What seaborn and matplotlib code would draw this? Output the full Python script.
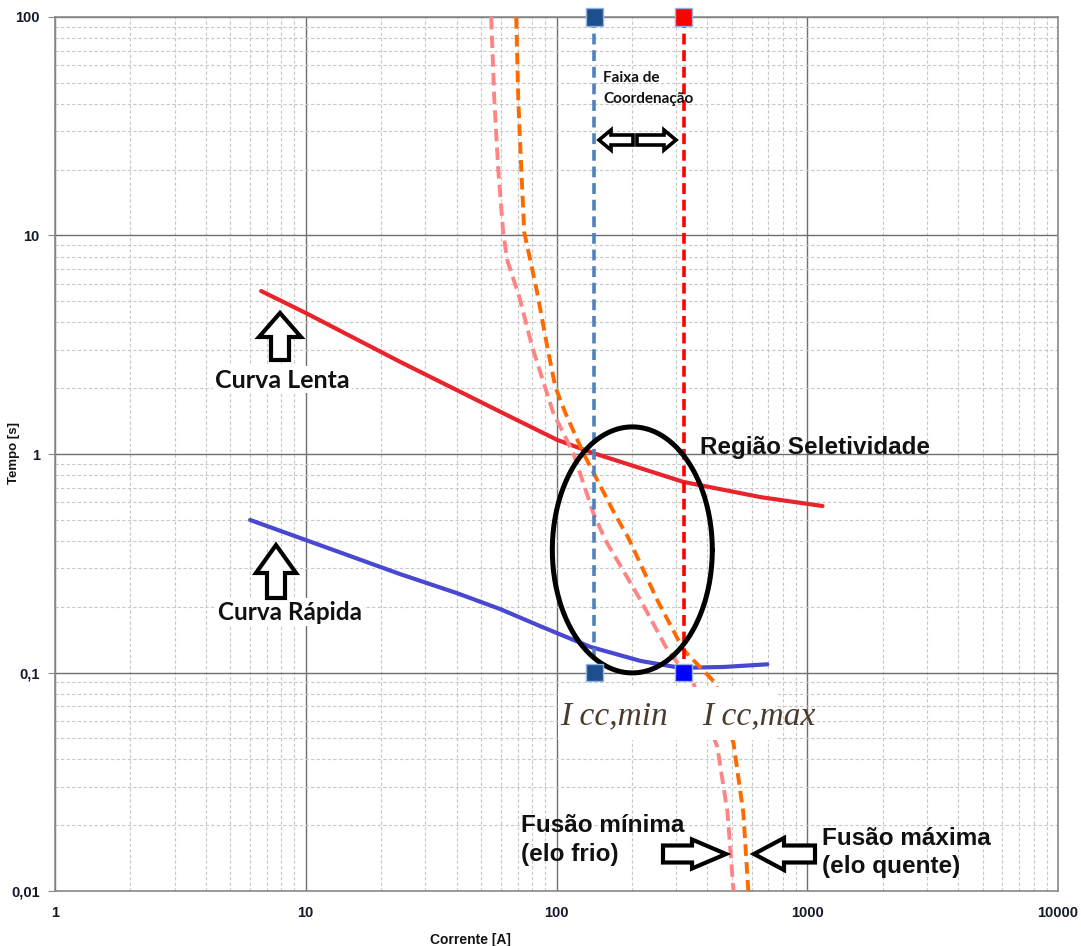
import numpy as np
import pandas as pd
import matplotlib
matplotlib.use("Agg")
import matplotlib.pyplot as plt
from matplotlib.patches import Polygon, Rectangle
import seaborn as sns

import warnings
warnings.filterwarnings('ignore')

# -------------------------
# STEP 1: Data
# -------------------------
# Curva Lenta (religador, curva lenta)
lenta_i = [6.64, 10, 23.8, 59.7, 100.7, 140, 321, 650, 1150]
lenta_t = [5.57, 4.42, 2.64, 1.56, 1.16, 1.01, 0.745, 0.635, 0.578]

# Curva Rapida
rapida_i = [6.0, 10, 23.8, 40.0, 59.7, 86.1, 136.4, 216, 312, 463, 693]
rapida_t = [0.499, 0.404, 0.282, 0.231, 0.195, 0.163, 0.131, 0.113, 0.105, 0.106, 0.109]

# Elo fusivel - fusao minima (elo frio)
fus_min_i = [54.9, 56.5, 58.6, 61.3, 63.6, 71.1, 80.0, 97.1, 116.7, 140.2,
             156.6, 216, 277, 351, 438, 481, 508]
fus_min_t = [100, 41.7, 19.9, 10.3, 7.72, 5.22, 3.09, 1.54, 1.01, 0.537,
             0.404, 0.215, 0.127, 0.0895, 0.0456, 0.0228, 0.01]

# Elo fusivel - fusao maxima (elo quente)
fus_max_i = [69.1, 70.4, 72.4, 74.4, 78.6, 83.8, 91.9, 98.9, 108.5, 127.9,
             170, 193.5, 252, 321, 430, 508, 556, 582]
fus_max_t = [100, 41.7, 19.9, 10.3, 7.72, 5.46, 3.09, 2.03, 1.54, 1.01,
             0.537, 0.413, 0.215, 0.127, 0.0895, 0.0475, 0.0228, 0.01]

# Correntes de curto-circuito (faixa de coordenacao)
icc_min = 141.7
icc_max = 321
icc_t = [100, 0.1]

# Regiao de seletividade (elipse em coordenadas log)
sel_center = (200.6, 0.364)
sel_span = (0.319, 0.563)   # semi-eixos em decadas

x_ticks = [1, 10, 100, 1000, 10000]
x_labels = ['1', '10', '100', '1000', '10000']
y_ticks = [0.01, 0.1, 1, 10, 100]
y_labels = ['0,01', '0,1', '1', '10', '100']

# -------------------------
# STEP 2: Figure & axes
# -------------------------
W, H = 1081, 946
sns.set_style("white")
plt.rcParams['font.family'] = ['Liberation Sans', 'DejaVu Sans']

fig = plt.figure(figsize=(W / 100, H / 100), dpi=100)
ax = fig.add_axes([55 / W, 1 - 891 / H, 1003 / W, 874 / H])
ax.set_xscale('log')
ax.set_yscale('log')
ax.set_xlim(1, 10000)
ax.set_ylim(0.01, 100)

ax.grid(which='minor', color='#c8c8c8', lw=0.8, ls=(0, (3, 2)), zorder=0)
ax.grid(which='major', color='#6e6e6e', lw=1.0, ls='-', zorder=0)
ax.set_axisbelow(True)
for s in ax.spines.values():
    s.set_color('#8a8a8a')
    s.set_linewidth(1.2)

# -------------------------
# STEP 3: Curves
# -------------------------
def curve(i, t, color, lw, dashes=None):
    df = pd.DataFrame({'I': i, 't': t})
    sns.lineplot(data=df, x='I', y='t', ax=ax, color=color, lw=lw,
                 sort=False, estimator=None, zorder=3)
    line = ax.lines[-1]
    line.set_solid_joinstyle('round')
    if dashes is not None:
        line.set_dashes(dashes)
        line.set_dash_capstyle('butt')

curve(lenta_i, lenta_t, '#e8242c', 3.0)
curve(rapida_i, rapida_t, '#4848d0', 3.0)
curve(fus_min_i, fus_min_t, '#ff8484', 2.8, (3.2, 1.6))
curve(fus_max_i, fus_max_t, '#ff6a00', 2.8, (3.0, 1.6))
curve([icc_min, icc_min], icc_t, '#4f81bd', 2.6, (3.0, 1.6))
curve([icc_max, icc_max], icc_t, '#ff0000', 2.6, (3.0, 1.6))

# marcadores quadrados nas extremidades
sq = pd.DataFrame({'I': [icc_min, icc_min, icc_max, icc_max],
                   't': [100, 0.1, 100, 0.1],
                   'c': ['a', 'a', 'b', 'c']})
sns.scatterplot(data=sq, x='I', y='t', hue='c', marker='s', s=150,
                palette={'a': '#1f4e8c', 'b': '#ff0000', 'c': '#0000ff'},
                edgecolor='#8fb4e3', linewidth=1.0, legend=False, ax=ax,
                zorder=5, clip_on=False)

# elipse da regiao de seletividade
th = np.linspace(0, 2 * np.pi, 300)
ex = 10 ** (np.log10(sel_center[0]) + sel_span[0] * np.cos(th))
ey = 10 ** (np.log10(sel_center[1]) + sel_span[1] * np.sin(th))
ax.plot(ex, ey, color='black', lw=3.6, zorder=4)

ax.xaxis.set_major_locator(matplotlib.ticker.FixedLocator(x_ticks))
ax.xaxis.set_major_formatter(matplotlib.ticker.FixedFormatter(x_labels))
ax.yaxis.set_major_locator(matplotlib.ticker.FixedLocator(y_ticks))
ax.yaxis.set_major_formatter(matplotlib.ticker.FixedFormatter(y_labels))
ax.xaxis.set_minor_formatter(matplotlib.ticker.NullFormatter())
ax.yaxis.set_minor_formatter(matplotlib.ticker.NullFormatter())
tick_font = dict(family=['Liberation Sans Narrow', 'Liberation Sans'],
                 weight='bold', size=10.5)
for lab in ax.get_xticklabels() + ax.get_yticklabels():
    lab.set_fontproperties(matplotlib.font_manager.FontProperties(**tick_font))
    lab.set_color('#141a2c')
ax.tick_params(axis='x', which='both', length=0, pad=11)
ax.tick_params(axis='y', which='major', length=5, color='#8a8a8a',
               direction='out', pad=6, left=True)
ax.tick_params(axis='y', which='minor', length=0)
ax.set_xlabel('')
ax.set_ylabel('')

# -------------------------
# STEP 4: Annotations
# -------------------------
def fx(x, y):
    return x / W, 1 - y / H

def block_arrow(x0, y0, x1, y1, shaft, head, head_len, lw=3.0):
    p0 = np.array([x0, y0], float)
    p1 = np.array([x1, y1], float)
    d = (p1 - p0) / np.linalg.norm(p1 - p0)
    n = np.array([-d[1], d[0]])
    hb = p1 - d * head_len
    pts = [p0 + n * shaft / 2, hb + n * shaft / 2, hb + n * head / 2, p1,
           hb - n * head / 2, hb - n * shaft / 2, p0 - n * shaft / 2]
    fig.add_artist(Polygon([fx(*p) for p in pts], closed=True,
                           transform=fig.transFigure, fc='white',
                           ec='black', lw=lw, joinstyle='miter', zorder=10))

# caixa branca das correntes de curto
fig.add_artist(Rectangle(fx(558, 740), 219 / W, 53 / H,
                         transform=fig.transFigure, fc='white', ec='none',
                         zorder=6))
serif = ['Liberation Serif', 'DejaVu Serif']
fig.text(*fx(560, 716), 'I cc,min', family=serif, style='italic', size=24,
         color='#4a3b2c', va='center', ha='left', zorder=7)
fig.text(*fx(702, 716), 'I cc,max', family=serif, style='italic', size=24,
         color='#4a3b2c', va='center', ha='left', zorder=7)

calib = ['Lato', 'DejaVu Sans']
box = dict(fc='white', ec='none', pad=1.5)
fig.text(*fx(603, 78), 'Faixa de', family=calib, weight='bold', size=11,
         va='center', ha='left', color='#111111')
fig.text(*fx(603, 99), 'Coordenação', family=calib, weight='bold', size=11,
         va='center', ha='left', color='#111111')
fig.text(*fx(215, 380), 'Curva Lenta', family=calib, weight='bold', size=18,
         va='center', ha='left', color='#111111', bbox=box, zorder=8)
fig.text(*fx(218, 612), 'Curva Rápida', family=calib, weight='bold', size=17.5,
         va='center', ha='left', color='#111111', bbox=box, zorder=8)

arial = dict(family=['Liberation Sans', 'DejaVu Sans'], weight='bold',
             size=17.5, color='#111111')
fig.text(*fx(700, 447), 'Região Seletividade', va='center', ha='left', **arial)
fig.text(*fx(521, 825), 'Fusão mínima', va='center', ha='left', **arial)
fig.text(*fx(521, 854), '(elo frio)', va='center', ha='left', **arial)
fig.text(*fx(822, 838), 'Fusão máxima', va='center', ha='left', **arial)
fig.text(*fx(822, 866), '(elo quente)', va='center', ha='left', **arial)

# setas
block_arrow(280, 360, 280, 313, 18, 42, 24)
block_arrow(276, 598, 276, 545, 18, 40, 28)
block_arrow(633, 140, 599, 140, 10, 20, 12, 2.6)
block_arrow(637, 140, 676, 140, 10, 20, 12, 2.6)
block_arrow(663, 854, 726, 854, 17, 29, 34)
block_arrow(815, 854, 754, 854, 17, 32, 30)

# rotulos dos eixos
narrow = ['Liberation Sans Narrow', 'Liberation Sans']
fig.text(*fx(14, 453), 'Tempo [s]', family=narrow, weight='bold', size=9.5,
         rotation=90, va='center', ha='center', color='#141414')
fig.text(*fx(470, 940), 'Corrente [A]', family=narrow, weight='bold',
         size=10, va='center', ha='center', color='#141414')

plt.savefig('out.png', dpi=100)
